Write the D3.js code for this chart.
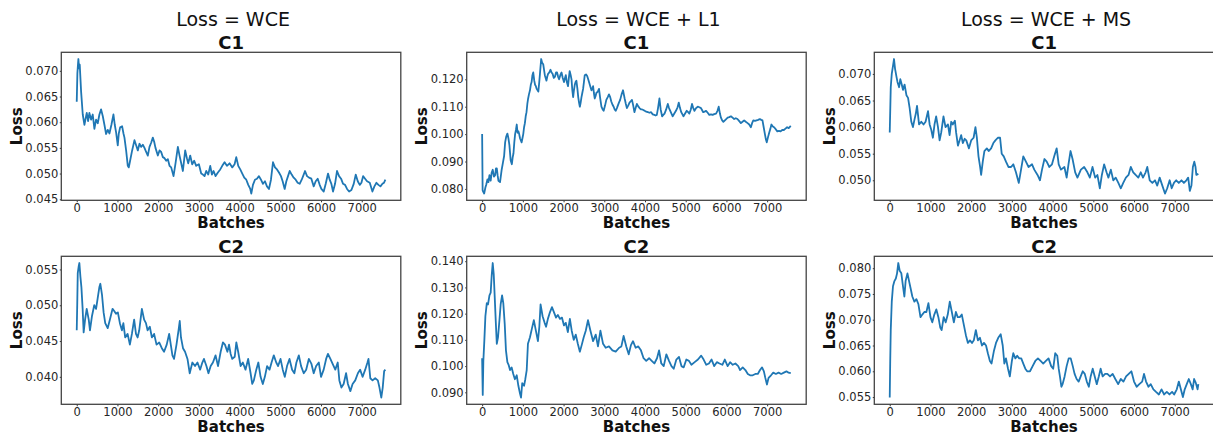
<!DOCTYPE html>
<html>
<head>
<meta charset="utf-8">
<script src="https://cdnjs.cloudflare.com/ajax/libs/d3/7.8.5/d3.min.js"></script>
<style>
    body { margin: 0; background: #fff; }
    svg text { font-family: "DejaVu Sans", sans-serif; }
    .tick text { fill: #262626; font-size: 11.5px; }
    .tick line { stroke: #333; }
</style>
</head>
<body>
<div id="chart"></div>
<script>

// titles
const columnTitles = ["Loss = WCE", "Loss = WCE + L1", "Loss = WCE + MS"];
const rowTitles = ["C1", "C2"];

// tick labels
const batchTicks = [0, 1000, 2000, 3000, 4000, 5000, 6000, 7000];
const wceC1Ticks = [0.045, 0.050, 0.055, 0.060, 0.065, 0.070];
const l1C1Ticks = [0.080, 0.090, 0.100, 0.110, 0.120];
const msC1Ticks = [0.050, 0.055, 0.060, 0.065, 0.070];
const wceC2Ticks = [0.040, 0.045, 0.050, 0.055];
const l1C2Ticks = [0.090, 0.100, 0.110, 0.120, 0.130, 0.140];
const msC2Ticks = [0.055, 0.060, 0.065, 0.070, 0.075, 0.080];

// [batch, loss]
const wceC1 = [[0,0.064],[16,0.0695],[33,0.0715],[41,0.0723],[57,0.0705],[74,0.0712],[107,0.066],[148,0.0615],[189,0.0595],[213,0.0605],[246,0.0618],[279,0.0602],[311,0.0618],[352,0.0605],[393,0.0615],[434,0.0587],[475,0.0605],[516,0.0598],[557,0.0615],[598,0.0625],[639,0.0612],[680,0.0595],[721,0.0577],[762,0.0585],[803,0.0578],[852,0.0595],[902,0.0615],[934,0.0595],[967,0.058],[1008,0.0555],[1033,0.0578],[1066,0.059],[1115,0.0592],[1148,0.0578],[1172,0.057],[1213,0.0545],[1254,0.0515],[1279,0.0512],[1311,0.0525],[1361,0.0545],[1418,0.0565],[1459,0.0555],[1500,0.0545],[1541,0.0558],[1582,0.0552],[1623,0.0556],[1664,0.055],[1705,0.0542],[1746,0.0535],[1787,0.0552],[1828,0.056],[1869,0.057],[1902,0.0562],[1934,0.055],[1992,0.0535],[2033,0.0545],[2074,0.0542],[2115,0.0532],[2156,0.053],[2197,0.0525],[2238,0.0528],[2279,0.0515],[2320,0.0512],[2377,0.0495],[2426,0.052],[2484,0.0552],[2525,0.0535],[2566,0.052],[2607,0.0505],[2664,0.0545],[2705,0.053],[2738,0.052],[2787,0.0535],[2836,0.0518],[2885,0.0525],[2934,0.0515],[3000,0.0518],[3057,0.050],[3098,0.0498],[3139,0.0495],[3180,0.0505],[3230,0.0498],[3279,0.0515],[3320,0.0498],[3361,0.0505],[3410,0.0495],[3467,0.0502],[3525,0.0508],[3574,0.0515],[3631,0.0522],[3689,0.0515],[3754,0.052],[3820,0.0512],[3877,0.0518],[3918,0.0532],[3967,0.0515],[4016,0.0508],[4066,0.050],[4115,0.0492],[4164,0.0488],[4213,0.0478],[4262,0.047],[4287,0.0461],[4328,0.0478],[4377,0.0488],[4426,0.049],[4475,0.0495],[4525,0.0488],[4574,0.048],[4623,0.0485],[4672,0.0475],[4721,0.047],[4770,0.0488],[4820,0.0522],[4869,0.0512],[4918,0.0508],[4967,0.0502],[5016,0.0495],[5057,0.0485],[5107,0.047],[5148,0.0485],[5189,0.0495],[5230,0.0505],[5279,0.0498],[5328,0.0492],[5377,0.0488],[5426,0.0482],[5475,0.048],[5525,0.0488],[5574,0.0498],[5607,0.0505],[5656,0.0495],[5705,0.0492],[5762,0.049],[5820,0.0475],[5869,0.0485],[5918,0.049],[5967,0.0478],[6008,0.047],[6066,0.0465],[6115,0.048],[6172,0.050],[6213,0.0488],[6254,0.048],[6295,0.0465],[6344,0.048],[6393,0.0505],[6443,0.0495],[6492,0.049],[6541,0.048],[6590,0.0478],[6639,0.047],[6689,0.0465],[6746,0.0468],[6803,0.048],[6852,0.0498],[6902,0.0485],[6951,0.0478],[6992,0.0482],[7033,0.0495],[7082,0.049],[7131,0.0485],[7197,0.0482],[7262,0.0465],[7311,0.0475],[7361,0.0482],[7410,0.0478],[7459,0.0475],[7508,0.048],[7545,0.0482],[7580,0.0488]];

const l1C1 = [[0,0.100],[12,0.0795],[25,0.079],[50,0.0783],[80,0.0805],[100,0.0815],[130,0.0835],[155,0.0825],[180,0.085],[210,0.083],[235,0.086],[260,0.087],[290,0.0845],[320,0.085],[340,0.0875],[360,0.0875],[380,0.085],[400,0.083],[440,0.0825],[480,0.087],[510,0.0895],[540,0.092],[565,0.097],[590,0.099],[620,0.1002],[645,0.0985],[670,0.096],[700,0.0905],[730,0.089],[750,0.0915],[770,0.093],[790,0.097],[810,0.100],[830,0.1015],[850,0.1035],[870,0.1005],[890,0.101],[910,0.100],[930,0.0985],[970,0.097],[990,0.0985],[1010,0.100],[1030,0.1025],[1050,0.104],[1070,0.1065],[1090,0.108],[1110,0.111],[1130,0.113],[1150,0.1145],[1175,0.116],[1195,0.118],[1215,0.119],[1235,0.1215],[1255,0.1225],[1280,0.1195],[1300,0.118],[1320,0.1175],[1340,0.1165],[1380,0.1155],[1400,0.1185],[1420,0.122],[1450,0.1274],[1475,0.126],[1500,0.1255],[1520,0.1235],[1540,0.1215],[1580,0.1195],[1600,0.121],[1620,0.122],[1650,0.1225],[1680,0.1235],[1705,0.1225],[1730,0.122],[1760,0.1205],[1790,0.121],[1815,0.1225],[1840,0.1225],[1865,0.121],[1890,0.120],[1920,0.1215],[1950,0.1225],[1980,0.1205],[2010,0.119],[2035,0.1205],[2055,0.1215],[2080,0.119],[2110,0.1175],[2130,0.1205],[2150,0.123],[2175,0.1215],[2195,0.120],[2215,0.116],[2235,0.1135],[2255,0.116],[2275,0.118],[2295,0.119],[2315,0.1195],[2340,0.1165],[2360,0.1135],[2380,0.1115],[2400,0.110],[2420,0.1115],[2440,0.1135],[2460,0.115],[2480,0.1165],[2500,0.119],[2520,0.1215],[2550,0.1218],[2580,0.1212],[2605,0.120],[2625,0.119],[2655,0.1175],[2685,0.116],[2705,0.1165],[2725,0.1175],[2745,0.115],[2765,0.113],[2785,0.1138],[2805,0.115],[2840,0.1155],[2870,0.1165],[2900,0.113],[2930,0.110],[2960,0.109],[2985,0.1085],[3020,0.1105],[3050,0.1125],[3085,0.1135],[3115,0.1145],[3145,0.1135],[3170,0.112],[3200,0.1108],[3230,0.110],[3255,0.109],[3280,0.1085],[3310,0.1095],[3335,0.1105],[3360,0.1115],[3390,0.1125],[3425,0.1145],[3460,0.116],[3480,0.1145],[3500,0.113],[3530,0.111],[3555,0.1095],[3590,0.1105],[3620,0.1115],[3650,0.112],[3680,0.1125],[3710,0.1105],[3740,0.108],[3770,0.1095],[3800,0.111],[3830,0.1102],[3865,0.1095],[3900,0.109],[3930,0.109],[3960,0.1088],[3990,0.1085],[4030,0.1082],[4070,0.108],[4110,0.1078],[4150,0.108],[4190,0.1072],[4230,0.107],[4260,0.1068],[4290,0.107],[4320,0.1095],[4355,0.113],[4385,0.109],[4420,0.1065],[4450,0.107],[4480,0.1075],[4520,0.109],[4560,0.111],[4590,0.1095],[4620,0.1085],[4650,0.1075],[4680,0.1065],[4720,0.1075],[4760,0.1085],[4800,0.1098],[4830,0.1115],[4860,0.1095],[4890,0.108],[4945,0.1065],[4985,0.1075],[5025,0.1085],[5060,0.108],[5090,0.1075],[5125,0.109],[5155,0.111],[5185,0.1095],[5215,0.1085],[5255,0.1095],[5295,0.110],[5335,0.1098],[5375,0.1095],[5400,0.1088],[5430,0.108],[5465,0.1082],[5500,0.1085],[5540,0.1078],[5580,0.107],[5620,0.1072],[5660,0.107],[5700,0.1073],[5745,0.1075],[5780,0.1085],[5810,0.110],[5840,0.1075],[5865,0.106],[5895,0.105],[5925,0.1045],[5975,0.1052],[6030,0.106],[6070,0.1062],[6110,0.1065],[6150,0.106],[6190,0.1055],[6230,0.1058],[6270,0.1055],[6310,0.1048],[6355,0.104],[6395,0.1045],[6435,0.105],[6475,0.1045],[6520,0.104],[6560,0.1035],[6600,0.1025],[6630,0.104],[6660,0.105],[6700,0.1048],[6740,0.105],[6780,0.1052],[6820,0.1055],[6855,0.1052],[6885,0.105],[6915,0.1025],[6945,0.100],[6970,0.098],[6990,0.097],[7020,0.0988],[7050,0.1005],[7080,0.102],[7105,0.1035],[7140,0.1028],[7170,0.1025],[7210,0.1018],[7250,0.101],[7290,0.1012],[7330,0.101],[7370,0.1015],[7410,0.1015],[7450,0.102],[7490,0.1025],[7530,0.1022],[7580,0.103]];

const msC1 = [[0,0.059],[12,0.063],[25,0.0675],[50,0.070],[80,0.0715],[105,0.0728],[130,0.071],[165,0.0695],[190,0.0685],[230,0.0675],[260,0.069],[295,0.068],[325,0.067],[365,0.068],[410,0.066],[450,0.0655],[490,0.0635],[530,0.061],[570,0.060],[610,0.0615],[640,0.0625],[670,0.064],[720,0.0605],[775,0.061],[830,0.0605],[880,0.061],[910,0.062],[940,0.063],[980,0.0605],[1020,0.0595],[1060,0.058],[1100,0.0605],[1140,0.062],[1185,0.060],[1225,0.0575],[1265,0.059],[1320,0.062],[1370,0.060],[1430,0.0605],[1470,0.0585],[1510,0.061],[1550,0.0605],[1600,0.0612],[1630,0.059],[1675,0.0565],[1715,0.0575],[1755,0.0585],[1795,0.057],[1840,0.0578],[1880,0.0575],[1945,0.056],[2000,0.0575],[2060,0.058],[2105,0.060],[2140,0.058],[2180,0.0545],[2220,0.0525],[2245,0.051],[2285,0.0535],[2325,0.0555],[2385,0.056],[2430,0.0555],[2490,0.056],[2545,0.057],[2595,0.0575],[2655,0.058],[2710,0.058],[2750,0.055],[2800,0.0545],[2855,0.0535],[2915,0.0525],[2980,0.0525],[3035,0.053],[3100,0.0515],[3170,0.0495],[3225,0.052],[3280,0.0545],[3345,0.0535],[3410,0.0525],[3495,0.053],[3550,0.052],[3630,0.051],[3690,0.050],[3740,0.052],[3800,0.054],[3855,0.0535],[3920,0.0525],[3985,0.053],[4040,0.0545],[4100,0.056],[4150,0.053],[4205,0.052],[4290,0.0525],[4345,0.0505],[4390,0.053],[4440,0.0555],[4490,0.054],[4555,0.0515],[4610,0.0505],[4695,0.052],[4775,0.0525],[4855,0.0515],[4915,0.0505],[4980,0.0525],[5045,0.0505],[5100,0.051],[5160,0.0485],[5210,0.051],[5265,0.053],[5325,0.0515],[5370,0.0505],[5430,0.052],[5490,0.050],[5550,0.0505],[5615,0.0495],[5675,0.0485],[5735,0.0495],[5800,0.0505],[5865,0.051],[5920,0.0525],[5980,0.0515],[6040,0.051],[6105,0.0505],[6165,0.0515],[6220,0.0505],[6285,0.0515],[6325,0.0525],[6385,0.050],[6450,0.0495],[6515,0.050],[6570,0.049],[6630,0.0505],[6695,0.049],[6760,0.0475],[6815,0.0485],[6875,0.050],[6925,0.0485],[6980,0.0495],[7035,0.050],[7100,0.0495],[7165,0.050],[7225,0.0495],[7285,0.050],[7330,0.0505],[7370,0.048],[7410,0.049],[7445,0.0525],[7480,0.0535],[7510,0.0525],[7530,0.051],[7580,0.0512]];

const wceC2 = [[0,0.0465],[12,0.050],[25,0.0545],[50,0.0555],[65,0.0559],[90,0.054],[115,0.0525],[145,0.0495],[170,0.0462],[205,0.048],[245,0.0495],[295,0.048],[325,0.0465],[375,0.0485],[430,0.050],[475,0.0495],[515,0.051],[555,0.0525],[580,0.053],[620,0.0515],[660,0.049],[700,0.0475],[760,0.0468],[815,0.048],[880,0.0495],[920,0.0492],[965,0.0488],[1010,0.049],[1060,0.0475],[1110,0.0465],[1145,0.0475],[1190,0.0455],[1250,0.046],[1305,0.0445],[1355,0.046],[1410,0.048],[1455,0.046],[1495,0.0455],[1535,0.0465],[1600,0.0495],[1655,0.048],[1700,0.0475],[1740,0.0465],[1795,0.047],[1845,0.0455],[1900,0.046],[1960,0.0445],[2025,0.0448],[2090,0.044],[2145,0.0435],[2210,0.0445],[2270,0.046],[2310,0.0445],[2350,0.043],[2390,0.0425],[2450,0.0445],[2500,0.0465],[2530,0.0478],[2560,0.0455],[2610,0.044],[2660,0.0435],[2720,0.0425],[2775,0.0405],[2840,0.042],[2905,0.0415],[2965,0.042],[3030,0.041],[3085,0.042],[3125,0.0425],[3185,0.0415],[3235,0.0405],[3290,0.0415],[3345,0.042],[3410,0.043],[3470,0.0415],[3535,0.0435],[3590,0.0448],[3640,0.0445],[3700,0.0435],[3740,0.0445],[3780,0.0432],[3820,0.0425],[3880,0.0428],[3920,0.0448],[3965,0.0435],[4025,0.0415],[4080,0.042],[4145,0.041],[4210,0.0425],[4270,0.0405],[4310,0.039],[4350,0.0395],[4410,0.041],[4460,0.042],[4515,0.040],[4570,0.039],[4620,0.040],[4675,0.0415],[4735,0.041],[4785,0.042],[4840,0.043],[4900,0.042],[4945,0.0415],[5005,0.0425],[5060,0.041],[5110,0.040],[5165,0.0415],[5225,0.0425],[5290,0.041],[5345,0.0405],[5395,0.042],[5455,0.043],[5510,0.0415],[5575,0.0405],[5635,0.041],[5700,0.0425],[5765,0.0418],[5820,0.0405],[5880,0.0415],[5945,0.042],[6000,0.040],[6065,0.041],[6125,0.0425],[6170,0.0432],[6230,0.0425],[6285,0.0418],[6350,0.041],[6410,0.042],[6450,0.0395],[6500,0.0385],[6555,0.039],[6615,0.0405],[6660,0.039],[6720,0.038],[6775,0.039],[6840,0.0395],[6905,0.0405],[6960,0.041],[7020,0.040],[7085,0.041],[7140,0.042],[7165,0.0425],[7210,0.0398],[7265,0.0395],[7330,0.0398],[7395,0.0395],[7435,0.0385],[7480,0.0371],[7515,0.0385],[7550,0.0408],[7580,0.041]];

const l1C2 = [[0,0.103],[15,0.089],[30,0.102],[55,0.110],[80,0.119],[115,0.124],[145,0.1235],[180,0.127],[210,0.128],[235,0.1345],[260,0.1393],[285,0.135],[310,0.126],[335,0.117],[360,0.1085],[390,0.111],[425,0.1175],[455,0.1235],[490,0.127],[520,0.124],[555,0.116],[585,0.106],[620,0.1015],[650,0.1005],[685,0.0985],[725,0.0995],[765,0.097],[805,0.095],[850,0.0965],[890,0.0925],[930,0.0895],[955,0.088],[985,0.0935],[1030,0.0925],[1060,0.095],[1095,0.0985],[1125,0.1085],[1175,0.111],[1225,0.1145],[1270,0.1175],[1320,0.1135],[1370,0.1095],[1405,0.115],[1435,0.1235],[1485,0.119],[1535,0.1165],[1570,0.115],[1615,0.118],[1665,0.1205],[1715,0.1225],[1765,0.1205],[1815,0.1185],[1860,0.1195],[1910,0.118],[1960,0.1185],[2010,0.1155],[2055,0.1165],[2105,0.113],[2155,0.118],[2200,0.1135],[2250,0.110],[2300,0.112],[2350,0.1085],[2400,0.1055],[2445,0.108],[2495,0.111],[2545,0.1135],[2600,0.1175],[2660,0.1135],[2725,0.1095],[2790,0.112],[2845,0.1075],[2905,0.1135],[2970,0.1085],[3035,0.107],[3115,0.1075],[3200,0.106],[3280,0.1055],[3365,0.107],[3420,0.1075],[3475,0.1115],[3540,0.1075],[3600,0.1045],[3655,0.108],[3705,0.1095],[3770,0.107],[3835,0.1075],[3900,0.106],[3965,0.103],[4030,0.102],[4100,0.103],[4165,0.102],[4230,0.101],[4295,0.103],[4345,0.106],[4400,0.101],[4460,0.100],[4525,0.1045],[4590,0.102],[4650,0.100],[4705,0.099],[4770,0.1025],[4835,0.1035],[4895,0.100],[4950,0.0995],[5015,0.1025],[5080,0.102],[5140,0.1005],[5220,0.1015],[5300,0.1025],[5380,0.104],[5440,0.1025],[5505,0.1005],[5570,0.101],[5635,0.1025],[5700,0.100],[5765,0.1015],[5830,0.101],[5900,0.1005],[5960,0.1025],[6030,0.100],[6090,0.1015],[6155,0.1005],[6220,0.101],[6290,0.100],[6335,0.0985],[6400,0.0995],[6465,0.0985],[6525,0.097],[6580,0.0965],[6645,0.0965],[6710,0.097],[6770,0.097],[6825,0.0985],[6875,0.0995],[6920,0.098],[6955,0.0955],[6995,0.093],[7035,0.0955],[7095,0.0965],[7150,0.0975],[7215,0.097],[7280,0.0975],[7345,0.097],[7410,0.0975],[7475,0.098],[7525,0.0975],[7580,0.0973]];

const msC2 = [[0,0.0549],[12,0.062],[25,0.068],[50,0.0735],[80,0.0765],[115,0.0775],[150,0.078],[180,0.079],[210,0.081],[245,0.0795],[285,0.079],[325,0.0765],[360,0.0745],[390,0.0775],[435,0.079],[475,0.0775],[515,0.076],[555,0.0745],[605,0.0735],[655,0.074],[705,0.073],[755,0.0705],[800,0.071],[850,0.0715],[900,0.0715],[950,0.0732],[1000,0.0705],[1045,0.0695],[1095,0.071],[1145,0.072],[1195,0.0705],[1240,0.0685],[1275,0.068],[1325,0.0705],[1375,0.0695],[1425,0.071],[1475,0.0735],[1525,0.0715],[1575,0.0695],[1625,0.0715],[1670,0.0705],[1720,0.0705],[1770,0.071],[1820,0.069],[1870,0.067],[1920,0.0655],[1970,0.066],[2020,0.0655],[2065,0.066],[2115,0.068],[2165,0.066],[2215,0.0665],[2265,0.065],[2315,0.0655],[2365,0.065],[2410,0.0635],[2460,0.062],[2500,0.0615],[2560,0.064],[2610,0.0655],[2665,0.0665],[2725,0.0672],[2775,0.065],[2815,0.0615],[2855,0.0625],[2905,0.0605],[2950,0.059],[3000,0.062],[3035,0.0635],[3085,0.0625],[3130,0.063],[3180,0.0625],[3230,0.0625],[3280,0.0615],[3330,0.0605],[3375,0.060],[3445,0.060],[3510,0.061],[3575,0.062],[3640,0.0625],[3705,0.062],[3770,0.0615],[3835,0.062],[3900,0.0625],[3965,0.061],[4015,0.0605],[4065,0.0635],[4115,0.063],[4150,0.0605],[4180,0.059],[4215,0.057],[4245,0.0575],[4295,0.059],[4345,0.061],[4395,0.0625],[4445,0.0625],[4495,0.061],[4540,0.0595],[4590,0.0585],[4640,0.058],[4690,0.059],[4740,0.060],[4790,0.0595],[4840,0.058],[4890,0.057],[4935,0.059],[4985,0.0605],[5035,0.059],[5085,0.0575],[5135,0.059],[5180,0.0605],[5230,0.059],[5290,0.0595],[5345,0.0595],[5410,0.059],[5475,0.0595],[5540,0.0585],[5610,0.0575],[5675,0.0585],[5740,0.058],[5805,0.059],[5870,0.0595],[5935,0.060],[6000,0.058],[6065,0.057],[6130,0.0575],[6200,0.058],[6245,0.0595],[6295,0.058],[6355,0.057],[6410,0.0575],[6475,0.0565],[6540,0.056],[6610,0.0555],[6675,0.0565],[6740,0.0555],[6805,0.056],[6870,0.0555],[6935,0.056],[6985,0.0555],[7050,0.0565],[7100,0.058],[7150,0.0565],[7200,0.055],[7245,0.0565],[7295,0.0575],[7345,0.0585],[7395,0.0575],[7440,0.0565],[7475,0.0585],[7515,0.0578],[7560,0.0565],[7580,0.0575]];


/* * * * * * * * * * * * * *
*      class LossPanel     *
* * * * * * * * * * * * * */

class LossPanel {

    constructor(svg, box, series, lossTicks, batchDomain, rowTitle, columnTitle) {
        this.svg = svg;
        this.box = box;
        this.series = series;
        this.lossTicks = lossTicks;
        this.batchDomain = batchDomain;
        this.rowTitle = rowTitle;
        this.columnTitle = columnTitle;

        this.initVis()
    }

    initVis() {
        let vis = this;

        vis.width = vis.box.width;
        vis.height = vis.box.height;

        vis.g = vis.svg.append('g')
            .attr('transform', `translate(${vis.box.left}, ${vis.box.top})`);

        // matplotlib style: 5% margin around the data
        let yExt = d3.extent(vis.series, d => d[1]);
        let yPad = (yExt[1] - yExt[0]) * 0.05;

        vis.xScale = d3.scaleLinear()
            .domain(vis.batchDomain)
            .range([0, vis.width]);

        vis.yScale = d3.scaleLinear()
            .domain([yExt[0] - yPad, yExt[1] + yPad])
            .range([vis.height, 0]);

        vis.xAxisGroup = vis.g.append('g')
            .attr('class', 'axis x-axis')
            .attr('transform', `translate(0, ${vis.height})`)
            .call(d3.axisBottom(vis.xScale).tickValues(batchTicks).tickFormat(d3.format('d')).tickSize(2).tickPadding(2));

        vis.yAxisGroup = vis.g.append('g')
            .attr('class', 'axis y-axis')
            .call(d3.axisLeft(vis.yScale).tickValues(vis.lossTicks).tickFormat(d3.format('.3f')).tickSize(1.5).tickPadding(1.5));

        vis.g.selectAll('.axis .domain').remove();

        // loss curve
        vis.line = d3.line()
            .x(d => vis.xScale(d[0]))
            .y(d => vis.yScale(d[1]));

        vis.g.append('path')
            .datum(vis.series)
            .attr('fill', 'none')
            .attr('stroke', '#1f77b4')
            .attr('stroke-width', 1.8)
            .attr('stroke-linejoin', 'round')
            .attr('d', vis.line);

        // axes frame
        vis.g.append('rect')
            .attr('width', vis.width)
            .attr('height', vis.height)
            .attr('fill', 'none')
            .attr('stroke', '#444')
            .attr('stroke-width', 1.3);

        // labels
        vis.g.append('text')
            .text('Batches')
            .attr('x', vis.width / 2)
            .attr('y', vis.height + 28)
            .attr('text-anchor', 'middle')
            .attr('font-size', '15px')
            .attr('font-weight', 'bold')
            .attr('fill', '#111');

        vis.g.append('text')
            .text('Loss')
            .attr('transform', `translate(-39.6, ${vis.height / 2}) rotate(-90)`)
            .attr('text-anchor', 'middle')
            .attr('font-size', '15px')
            .attr('font-weight', 'bold')
            .attr('fill', '#111');

        vis.g.append('text')
            .text(vis.rowTitle)
            .attr('x', vis.width / 2)
            .attr('y', -3.3)
            .attr('text-anchor', 'middle')
            .attr('font-size', '18px')
            .attr('font-weight', 'bold')
            .attr('fill', '#111');

        if (vis.columnTitle) {
            vis.g.append('text')
                .text(vis.columnTitle)
                .attr('x', vis.width / 2 + 2)
                .attr('y', 25.7 - vis.box.top)
                .attr('text-anchor', 'middle')
                .attr('font-size', '19px')
                .attr('fill', '#111');
        }
    }
}


let svg = d3.select('#chart').append('svg')
    .attr('width', 1213)
    .attr('height', 437);

let panelLefts = [61.3, 466.7, 874.3];
let panelTops = [52.3, 256.3];

let grid = [
    [[wceC1, wceC1Ticks], [l1C1, l1C1Ticks], [msC1, msC1Ticks]],
    [[wceC2, wceC2Ticks], [l1C2, l1C2Ticks], [msC2, msC2Ticks]]
];

// shared batch axis, 5% margin like matplotlib
let allBatches = grid.flat().flatMap(p => p[0].map(d => d[0]));
let bExt = d3.extent(allBatches);
let bPad = (bExt[1] - bExt[0]) * 0.05;
let batchDomain = [bExt[0] - bPad, bExt[1] + bPad];

let panels = [];
grid.forEach((row, r) => {
    row.forEach((cell, c) => {
        panels.push(new LossPanel(
            svg,
            {left: panelLefts[c], top: panelTops[r], width: 339.5, height: 148},
            cell[0], cell[1], batchDomain,
            rowTitles[r],
            r === 0 ? columnTitles[c] : null
        ));
    });
});

</script>
</body>
</html>
